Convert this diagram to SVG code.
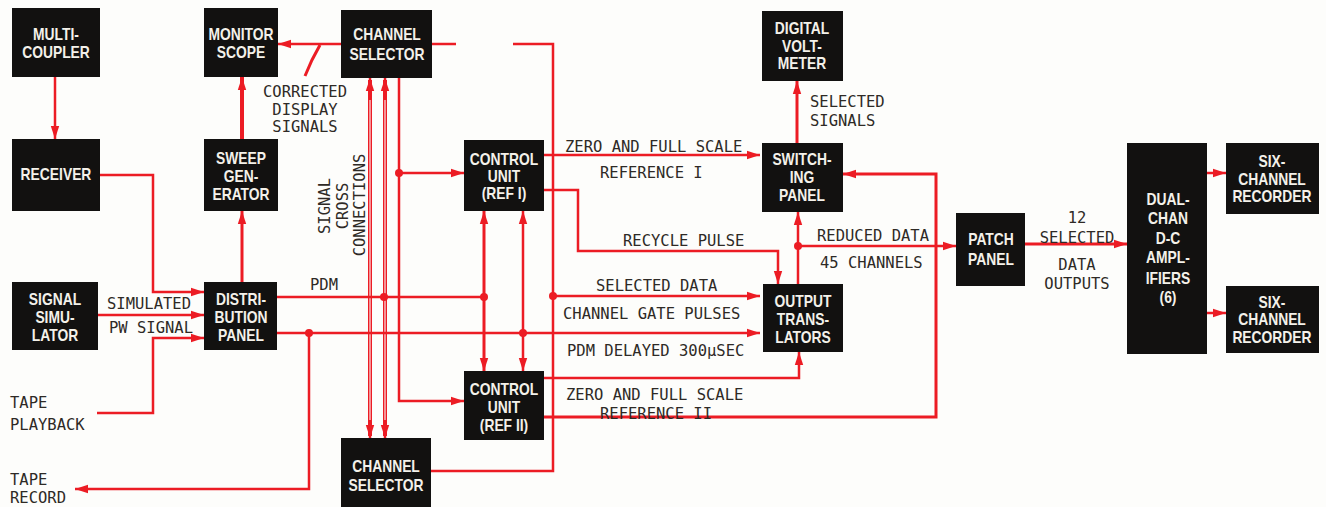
<svg xmlns="http://www.w3.org/2000/svg" width="1326" height="507" viewBox="0 0 1326 507">
<style>
.box{fill:#121110}
.bt{font-family:"Liberation Sans",Arial,sans-serif;font-weight:bold;font-size:16.5px;fill:#f4f1ea;text-anchor:middle}
.lb{font-family:"DejaVu Sans Mono","Liberation Mono",monospace;font-size:15.5px;fill:#2e2a26}
.c{fill:none;stroke:#ec1c24;stroke-width:2.5;stroke-linejoin:miter}
.a{marker-end:url(#ah)}
.s{marker-start:url(#ahs)}
.dot{fill:#ec1c24}
.dbl{fill:none;stroke:#ec1c24;stroke-width:4}
.dbli{fill:none;stroke:#fbe3e3;stroke-width:1.2}
</style>
<defs>
<marker id="ah" markerUnits="userSpaceOnUse" markerWidth="14" markerHeight="10" refX="13" refY="5" orient="auto"><path d="M0,0.8 L13,5 L0,9.2 z" fill="#ec1c24"/></marker>
<marker id="ahs" markerUnits="userSpaceOnUse" markerWidth="14" markerHeight="10" refX="0" refY="5" orient="auto"><path d="M13,0.8 L0,5 L13,9.2 z" fill="#ec1c24"/></marker>
</defs>
<rect width="1326" height="507" fill="#fdfdfb"/>

<g id="connectors">
<path class="c a" d="M55,77 V139"/>
<path class="c a" d="M100,175 H153 V292 H204"/>
<path class="c a" d="M98,315 H204"/>
<path class="c a" d="M97,413 H153 V338 H204"/>
<path class="c a" d="M242,282 V211" style="stroke-width:3"/>
<path class="c a" d="M242,139 V77" style="stroke-width:4"/>
<path class="c a" d="M341,44 H278"/>
<path class="c" d="M305,76 L312,60 L320,45" style="stroke-width:3"/>
<path class="c" d="M432,44 H456"/>
<path class="c" d="M513,44 H553 V471 H431"/>
<path class="dbl" d="M370,80 V436"/>
<path class="dbli" d="M370,92 V424"/>
<path class="dbl" d="M385,80 V436"/>
<path class="dbli" d="M385,92 V424"/>
<path class="c a" d="M370,100 V78"/>
<path class="c a" d="M370,420 V438"/>
<path class="c a" d="M385,100 V78"/>
<path class="c a" d="M385,420 V438"/>
<path class="c a" d="M399,78 V401 H464"/>
<path class="c a" d="M399,173 H464"/>
<path class="c" d="M277,297 H484"/>
<path class="c a s" d="M484,211 V371" style="stroke-width:3"/>
<path class="c a s" d="M523,211 V371"/>
<path class="c a" d="M277,333 H760"/>
<path class="c a" d="M309,333 V489 H75"/>
<path class="c a" d="M553,296 H760"/>
<path class="c a" d="M544,155 H760"/>
<path class="c a" d="M544,190 H578 V251 H778 V284"/>
<path class="c a" d="M798,284 V212"/>
<path class="c a" d="M798,246 H956"/>
<path class="c a" d="M797,143 V81" style="stroke-width:3"/>
<path class="c a" d="M544,378 H799 V352"/>
<path class="c a" d="M544,417 H936 V174 H843" style="stroke-width:3"/>
<path class="c a" d="M1025,244 H1127" style="stroke-width:3"/>
<path class="c a" d="M1207,173 H1226"/>
<path class="c a" d="M1207,313 H1226"/>
<circle class="dot" cx="399" cy="173" r="4"/>
<circle class="dot" cx="384" cy="297" r="4"/>
<circle class="dot" cx="484" cy="297" r="4"/>
<circle class="dot" cx="309" cy="333" r="4"/>
<circle class="dot" cx="523" cy="333" r="4"/>
<circle class="dot" cx="553" cy="296" r="4"/>
<circle class="dot" cx="798" cy="246" r="4"/>
</g>

<g id="multicoupler"><rect class="box" x="12" y="8" width="88" height="69"/><g transform="matrix(0.84,0,0,1,8.96,0)"><text class="bt" x="56" y="40">MULTI-</text><text class="bt" x="56" y="58">COUPLER</text></g></g>
<g id="monitor"><rect class="box" x="204" y="8" width="74" height="69"/><g transform="matrix(0.84,0,0,1,38.56,0)"><text class="bt" x="241" y="40">MONITOR</text><text class="bt" x="241" y="58">SCOPE</text></g></g>
<g id="chsel1"><rect class="box" x="341" y="10" width="91" height="68"/><g transform="matrix(0.84,0,0,1,61.92,0)"><text class="bt" x="387" y="40">CHANNEL</text><text class="bt" x="387" y="60">SELECTOR</text></g></g>
<g id="receiver"><rect class="box" x="12" y="139" width="88" height="72"/><g transform="matrix(0.84,0,0,1,8.96,0)"><text class="bt" x="56" y="180">RECEIVER</text></g></g>
<g id="sweep"><rect class="box" x="204" y="139" width="74" height="72"/><g transform="matrix(0.84,0,0,1,38.56,0)"><text class="bt" x="241" y="164">SWEEP</text><text class="bt" x="241" y="182">GEN-</text><text class="bt" x="241" y="200">ERATOR</text></g></g>
<g id="simulator"><rect class="box" x="12" y="282" width="86" height="68"/><g transform="matrix(0.84,0,0,1,8.8,0)"><text class="bt" x="55" y="305">SIGNAL</text><text class="bt" x="55" y="323">SIMU-</text><text class="bt" x="55" y="341">LATOR</text></g></g>
<g id="distribution"><rect class="box" x="204" y="282" width="73" height="68"/><g transform="matrix(0.84,0,0,1,38.56,0)"><text class="bt" x="241" y="305">DISTRI-</text><text class="bt" x="241" y="323">BUTION</text><text class="bt" x="241" y="341">PANEL</text></g></g>
<g id="chsel2"><rect class="box" x="341" y="438" width="90" height="69"/><g transform="matrix(0.84,0,0,1,61.76,0)"><text class="bt" x="386" y="472">CHANNEL</text><text class="bt" x="386" y="491">SELECTOR</text></g></g>
<g id="cu1"><rect class="box" x="464" y="140" width="80" height="71"/><g transform="matrix(0.84,0,0,1,80.64,0)"><text class="bt" x="504" y="165">CONTROL</text><text class="bt" x="504" y="182">UNIT</text><text class="bt" x="504" y="199">(REF I)</text></g></g>
<g id="cu2"><rect class="box" x="464" y="371" width="80" height="69"/><g transform="matrix(0.84,0,0,1,80.64,0)"><text class="bt" x="504" y="395">CONTROL</text><text class="bt" x="504" y="413">UNIT</text><text class="bt" x="504" y="431">(REF II)</text></g></g>
<g id="dvm"><rect class="box" x="762" y="11" width="81" height="70"/><g transform="matrix(0.84,0,0,1,128.32,0)"><text class="bt" x="802" y="34">DIGITAL</text><text class="bt" x="802" y="52">VOLT-</text><text class="bt" x="802" y="69">METER</text></g></g>
<g id="switching"><rect class="box" x="762" y="143" width="81" height="69"/><g transform="matrix(0.84,0,0,1,128.32,0)"><text class="bt" x="802" y="165">SWITCH-</text><text class="bt" x="802" y="183">ING</text><text class="bt" x="802" y="201">PANEL</text></g></g>
<g id="output"><rect class="box" x="763" y="284" width="80" height="68"/><g transform="matrix(0.84,0,0,1,128.48,0)"><text class="bt" x="803" y="307">OUTPUT</text><text class="bt" x="803" y="325">TRANS-</text><text class="bt" x="803" y="343">LATORS</text></g></g>
<g id="patch"><rect class="box" x="956" y="213" width="69" height="73"/><g transform="matrix(0.84,0,0,1,158.56,0)"><text class="bt" x="991" y="245">PATCH</text><text class="bt" x="991" y="265">PANEL</text></g></g>
<g id="dualchan"><rect class="box" x="1127" y="143" width="80" height="211"/><g transform="matrix(0.84,0,0,1,186.88,0)"><text class="bt" x="1168" y="205">DUAL-</text><text class="bt" x="1168" y="224">CHAN</text><text class="bt" x="1168" y="244">D-C</text><text class="bt" x="1168" y="263">AMPL-</text><text class="bt" x="1168" y="284">IFIERS</text><text class="bt" x="1168" y="303">(6)</text></g></g>
<g id="rec1"><rect class="box" x="1226" y="143" width="93" height="71"/><g transform="matrix(0.84,0,0,1,203.52,0)"><text class="bt" x="1272" y="167">SIX-</text><text class="bt" x="1272" y="185">CHANNEL</text><text class="bt" x="1272" y="202">RECORDER</text></g></g>
<g id="rec2"><rect class="box" x="1226" y="286" width="93" height="67"/><g transform="matrix(0.84,0,0,1,203.52,0)"><text class="bt" x="1272" y="308">SIX-</text><text class="bt" x="1272" y="325">CHANNEL</text><text class="bt" x="1272" y="343">RECORDER</text></g></g>

<g id="labels">
<text class="lb" x="305" y="97" text-anchor="middle">CORRECTED</text>
<text class="lb" x="305" y="115" text-anchor="middle">DISPLAY</text>
<text class="lb" x="305" y="132" text-anchor="middle">SIGNALS</text>
<text class="lb" transform="translate(330,206) rotate(-90)" text-anchor="middle">SIGNAL</text>
<text class="lb" transform="translate(348,206) rotate(-90)" text-anchor="middle">CROSS</text>
<text class="lb" transform="translate(365,205) rotate(-90)" text-anchor="middle">CONNECTIONS</text>
<text class="lb" x="310" y="290">PDM</text>
<text class="lb" x="107" y="309">SIMULATED</text>
<text class="lb" x="109" y="333">PW SIGNAL</text>
<text class="lb" x="10" y="408">TAPE</text>
<text class="lb" x="10" y="430">PLAYBACK</text>
<text class="lb" x="10" y="485">TAPE</text>
<text class="lb" x="10" y="503">RECORD</text>
<text class="lb" x="565" y="152">ZERO AND FULL SCALE</text>
<text class="lb" x="600" y="178">REFERENCE I</text>
<text class="lb" x="623" y="246">RECYCLE PULSE</text>
<text class="lb" x="596" y="291">SELECTED DATA</text>
<text class="lb" x="563" y="319">CHANNEL GATE PULSES</text>
<text class="lb" x="567" y="356">PDM DELAYED 300µSEC</text>
<text class="lb" x="566" y="400">ZERO AND FULL SCALE</text>
<text class="lb" x="600" y="419">REFERENCE II</text>
<text class="lb" x="810" y="107">SELECTED</text>
<text class="lb" x="810" y="126">SIGNALS</text>
<text class="lb" x="817" y="241">REDUCED DATA</text>
<text class="lb" x="820" y="268">45 CHANNELS</text>
<text class="lb" x="1077" y="223" text-anchor="middle">12</text>
<text class="lb" x="1077" y="243" text-anchor="middle">SELECTED</text>
<text class="lb" x="1077" y="270" text-anchor="middle">DATA</text>
<text class="lb" x="1077" y="289" text-anchor="middle">OUTPUTS</text>
</g>
</svg>
